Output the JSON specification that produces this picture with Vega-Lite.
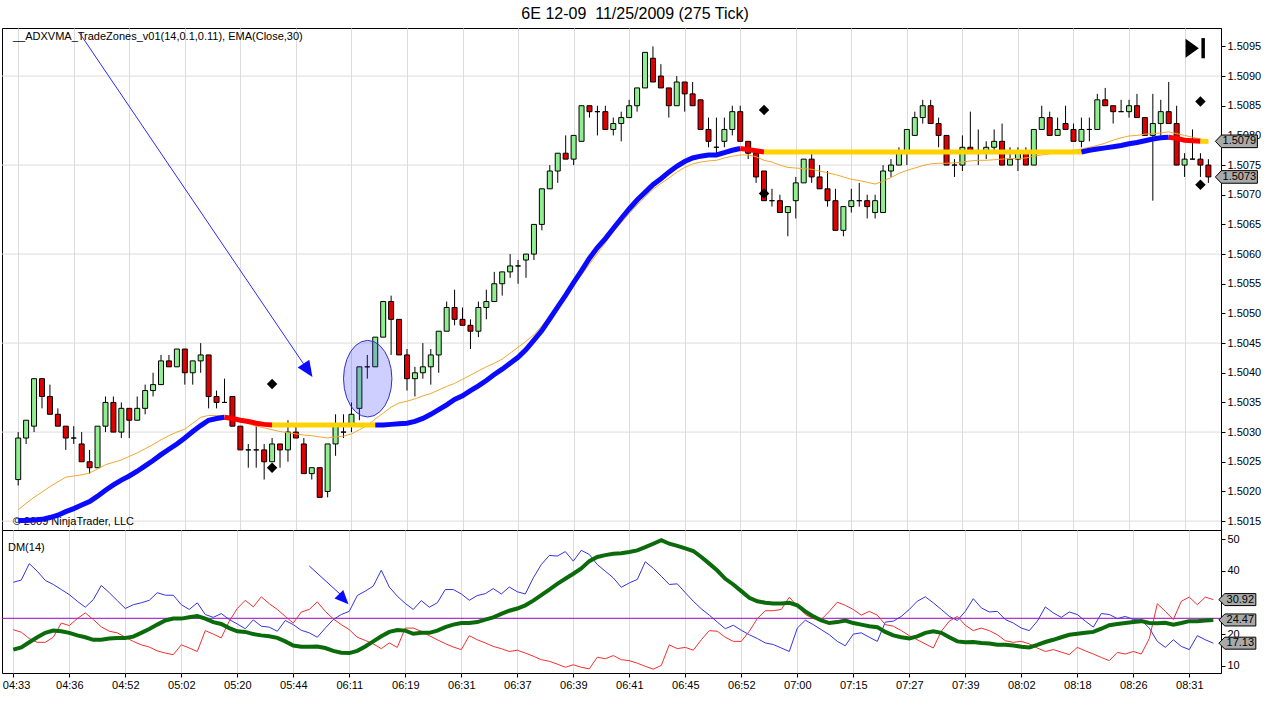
{
  "$schema": "https://vega.github.io/schema/vega-lite/v6.json",
  "title": {"text": "6E 12-09\u00a0 11/25/2009 (275 Tick)", "fontSize": 16, "fontWeight": "normal", "color": "#000", "offset": 6, "anchor": "middle", "dx": 4, "font": "Liberation Sans"},
  "padding": {"left": 1, "top": 5, "right": 5, "bottom": 5},
  "background": "white",
  "spacing": 0,
  "bounds": "flush",
  "config": {
    "font": "Liberation Sans",
    "view": {"stroke": "#000", "strokeWidth": 1},
    "axis": {"labelOverlap": false, "labelFont": "Liberation Sans", "labelFontSize": 11, "labelColor": "#000"}
  },
  "datasets": {
    "bars": [
      {"n":1,"o":1.5022,"h":1.5030,"l":1.5021,"c":1.5029,"ema":1.50169,"pdi":36.4,"mdi":21.4,"adx":15.1},
      {"n":2,"o":1.5029,"h":1.5032,"l":1.5028,"c":1.5032,"ema":1.50180,"pdi":37.1,"mdi":20.6,"adx":15.8},
      {"n":3,"o":1.5031,"h":1.5039,"l":1.5030,"c":1.5039,"ema":1.50190,"pdi":42.3,"mdi":18.6,"adx":17.4},
      {"n":4,"o":1.5039,"h":1.5039,"l":1.5034,"c":1.5036,"ema":1.50199,"pdi":39.9,"mdi":17.4,"adx":19.0},
      {"n":5,"o":1.5036,"h":1.5038,"l":1.5033,"c":1.5033,"ema":1.50208,"pdi":37.0,"mdi":17.4,"adx":20.4},
      {"n":6,"o":1.5033,"h":1.5034,"l":1.5031,"c":1.5031,"ema":1.50216,"pdi":35.7,"mdi":19.0,"adx":21.1},
      {"n":7,"o":1.5031,"h":1.5031,"l":1.5027,"c":1.5029,"ema":1.50224,"pdi":34.1,"mdi":23.5,"adx":20.9},
      {"n":8,"o":1.5029,"h":1.5031,"l":1.5028,"c":1.5029,"ema":1.50226,"pdi":32.5,"mdi":22.7,"adx":20.4},
      {"n":9,"o":1.5028,"h":1.5030,"l":1.5025,"c":1.5025,"ema":1.50228,"pdi":30.4,"mdi":24.9,"adx":19.6},
      {"n":10,"o":1.5025,"h":1.5027,"l":1.5023,"c":1.5024,"ema":1.50231,"pdi":28.5,"mdi":26.7,"adx":19.0},
      {"n":11,"o":1.5024,"h":1.5031,"l":1.5024,"c":1.5031,"ema":1.50238,"pdi":30.9,"mdi":24.6,"adx":18.2},
      {"n":12,"o":1.5031,"h":1.5036,"l":1.5030,"c":1.5035,"ema":1.50245,"pdi":35.4,"mdi":22.3,"adx":18.2},
      {"n":13,"o":1.5035,"h":1.5036,"l":1.5030,"c":1.5030,"ema":1.50249,"pdi":33.1,"mdi":20.9,"adx":18.6},
      {"n":14,"o":1.5030,"h":1.5035,"l":1.5029,"c":1.5034,"ema":1.50253,"pdi":30.6,"mdi":20.4,"adx":18.8},
      {"n":15,"o":1.5034,"h":1.5034,"l":1.5029,"c":1.5032,"ema":1.50259,"pdi":28.1,"mdi":19.0,"adx":18.8},
      {"n":16,"o":1.5032,"h":1.5036,"l":1.5032,"c":1.5034,"ema":1.50265,"pdi":29.3,"mdi":17.7,"adx":19.2},
      {"n":17,"o":1.5034,"h":1.5038,"l":1.5033,"c":1.5037,"ema":1.50272,"pdi":29.9,"mdi":16.6,"adx":20.4},
      {"n":18,"o":1.5037,"h":1.5040,"l":1.5036,"c":1.5038,"ema":1.50279,"pdi":30.7,"mdi":15.9,"adx":21.6},
      {"n":19,"o":1.5038,"h":1.5043,"l":1.5038,"c":1.5042,"ema":1.50287,"pdi":33.1,"mdi":14.7,"adx":23.0},
      {"n":20,"o":1.5042,"h":1.5043,"l":1.5041,"c":1.5041,"ema":1.50294,"pdi":32.3,"mdi":14.0,"adx":24.3},
      {"n":21,"o":1.5041,"h":1.5044,"l":1.5041,"c":1.5044,"ema":1.50300,"pdi":32.3,"mdi":13.5,"adx":24.9},
      {"n":22,"o":1.5044,"h":1.5044,"l":1.5038,"c":1.5040,"ema":1.50305,"pdi":29.3,"mdi":16.6,"adx":24.9},
      {"n":23,"o":1.5040,"h":1.5042,"l":1.5038,"c":1.5042,"ema":1.50315,"pdi":27.8,"mdi":15.6,"adx":25.3},
      {"n":24,"o":1.5042,"h":1.5045,"l":1.5040,"c":1.5043,"ema":1.50325,"pdi":29.9,"mdi":14.5,"adx":25.7},
      {"n":25,"o":1.5043,"h":1.5043,"l":1.5034,"c":1.5036,"ema":1.50328,"pdi":26.2,"mdi":21.1,"adx":24.9},
      {"n":26,"o":1.5036,"h":1.5037,"l":1.5034,"c":1.5035,"ema":1.50328,"pdi":25.3,"mdi":20.0,"adx":23.8},
      {"n":27,"o":1.5035,"h":1.5039,"l":1.5035,"c":1.5035,"ema":1.50328,"pdi":26.5,"mdi":18.8,"adx":23.2},
      {"n":28,"o":1.5036,"h":1.5036,"l":1.5031,"c":1.5031,"ema":1.50325,"pdi":24.6,"mdi":24.1,"adx":21.9},
      {"n":29,"o":1.5031,"h":1.5031,"l":1.5027,"c":1.5027,"ema":1.50320,"pdi":23.2,"mdi":28.1,"adx":20.9},
      {"n":30,"o":1.5027,"h":1.5028,"l":1.5024,"c":1.5027,"ema":1.50314,"pdi":21.7,"mdi":30.7,"adx":20.7},
      {"n":31,"o":1.5027,"h":1.5031,"l":1.5024,"c":1.5027,"ema":1.50310,"pdi":24.5,"mdi":28.6,"adx":20.0},
      {"n":32,"o":1.5027,"h":1.5028,"l":1.5022,"c":1.5025,"ema":1.50307,"pdi":22.5,"mdi":31.8,"adx":19.6},
      {"n":33,"o":1.5025,"h":1.5029,"l":1.5025,"c":1.5028,"ema":1.50304,"pdi":22.2,"mdi":29.6,"adx":19.3},
      {"n":34,"o":1.5028,"h":1.5028,"l":1.5024,"c":1.5027,"ema":1.50301,"pdi":20.9,"mdi":27.8,"adx":18.8},
      {"n":35,"o":1.5027,"h":1.5032,"l":1.5025,"c":1.5030,"ema":1.50299,"pdi":24.3,"mdi":25.6,"adx":17.7},
      {"n":36,"o":1.5030,"h":1.5031,"l":1.5029,"c":1.5029,"ema":1.50297,"pdi":23.0,"mdi":23.5,"adx":16.4},
      {"n":37,"o":1.5028,"h":1.5029,"l":1.5023,"c":1.5023,"ema":1.50295,"pdi":21.2,"mdi":27.0,"adx":16.0},
      {"n":38,"o":1.5023,"h":1.5024,"l":1.5022,"c":1.5024,"ema":1.50294,"pdi":20.4,"mdi":27.8,"adx":16.0},
      {"n":39,"o":1.5024,"h":1.5024,"l":1.5019,"c":1.5019,"ema":1.50292,"pdi":19.0,"mdi":30.2,"adx":16.1},
      {"n":40,"o":1.5020,"h":1.5028,"l":1.5019,"c":1.5028,"ema":1.50290,"pdi":21.9,"mdi":27.2,"adx":15.6},
      {"n":41,"o":1.5028,"h":1.5033,"l":1.5026,"c":1.5031,"ema":1.50292,"pdi":24.6,"mdi":24.8,"adx":14.7},
      {"n":42,"o":1.5030,"h":1.5033,"l":1.5029,"c":1.5030,"ema":1.50293,"pdi":26.2,"mdi":23.0,"adx":14.1},
      {"n":43,"o":1.5031,"h":1.5035,"l":1.5030,"c":1.5033,"ema":1.50297,"pdi":27.2,"mdi":21.4,"adx":14.0},
      {"n":44,"o":1.5034,"h":1.5041,"l":1.5032,"c":1.5041,"ema":1.50304,"pdi":32.2,"mdi":19.0,"adx":14.7},
      {"n":45,"o":1.5041,"h":1.5043,"l":1.5039,"c":1.5041,"ema":1.50311,"pdi":33.6,"mdi":18.0,"adx":16.1},
      {"n":46,"o":1.5041,"h":1.5046,"l":1.5041,"c":1.5046,"ema":1.50322,"pdi":35.2,"mdi":16.9,"adx":17.7},
      {"n":47,"o":1.5046,"h":1.5052,"l":1.5046,"c":1.5052,"ema":1.50332,"pdi":40.2,"mdi":15.4,"adx":19.3},
      {"n":48,"o":1.5052,"h":1.5053,"l":1.5043,"c":1.5049,"ema":1.50342,"pdi":34.9,"mdi":17.2,"adx":20.7},
      {"n":49,"o":1.5049,"h":1.5049,"l":1.5043,"c":1.5043,"ema":1.50349,"pdi":32.0,"mdi":15.8,"adx":21.3},
      {"n":50,"o":1.5043,"h":1.5044,"l":1.5037,"c":1.5039,"ema":1.50352,"pdi":29.7,"mdi":21.9,"adx":21.1},
      {"n":51,"o":1.5039,"h":1.5041,"l":1.5036,"c":1.5040,"ema":1.50356,"pdi":27.8,"mdi":21.9,"adx":20.1},
      {"n":52,"o":1.5040,"h":1.5045,"l":1.5039,"c":1.5041,"ema":1.50361,"pdi":30.6,"mdi":20.9,"adx":20.4},
      {"n":53,"o":1.5041,"h":1.5044,"l":1.5038,"c":1.5043,"ema":1.50365,"pdi":28.5,"mdi":19.5,"adx":20.4},
      {"n":54,"o":1.5043,"h":1.5047,"l":1.5040,"c":1.5047,"ema":1.50371,"pdi":29.9,"mdi":18.2,"adx":21.1},
      {"n":55,"o":1.5047,"h":1.5052,"l":1.5047,"c":1.5051,"ema":1.50377,"pdi":34.1,"mdi":17.0,"adx":22.2},
      {"n":56,"o":1.5051,"h":1.5054,"l":1.5048,"c":1.5049,"ema":1.50382,"pdi":34.1,"mdi":15.9,"adx":23.0},
      {"n":57,"o":1.5049,"h":1.5051,"l":1.5048,"c":1.5048,"ema":1.50389,"pdi":32.7,"mdi":15.1,"adx":23.5},
      {"n":58,"o":1.5048,"h":1.5049,"l":1.5044,"c":1.5047,"ema":1.50396,"pdi":30.7,"mdi":19.5,"adx":23.5},
      {"n":59,"o":1.5047,"h":1.5052,"l":1.5046,"c":1.5051,"ema":1.50403,"pdi":32.2,"mdi":18.2,"adx":23.8},
      {"n":60,"o":1.5051,"h":1.5054,"l":1.5049,"c":1.5052,"ema":1.50410,"pdi":32.8,"mdi":17.2,"adx":24.6},
      {"n":61,"o":1.5052,"h":1.5057,"l":1.5052,"c":1.5055,"ema":1.50416,"pdi":34.4,"mdi":16.1,"adx":25.3},
      {"n":62,"o":1.5055,"h":1.5057,"l":1.5053,"c":1.5057,"ema":1.50423,"pdi":32.7,"mdi":15.4,"adx":26.4},
      {"n":63,"o":1.5057,"h":1.5060,"l":1.5056,"c":1.5058,"ema":1.50433,"pdi":34.9,"mdi":14.5,"adx":27.4},
      {"n":64,"o":1.5058,"h":1.5059,"l":1.5055,"c":1.5058,"ema":1.50443,"pdi":33.4,"mdi":14.9,"adx":28.1},
      {"n":65,"o":1.5059,"h":1.5060,"l":1.5056,"c":1.5060,"ema":1.50453,"pdi":32.7,"mdi":14.0,"adx":29.1},
      {"n":66,"o":1.5060,"h":1.5065,"l":1.5059,"c":1.5065,"ema":1.50464,"pdi":37.8,"mdi":13.0,"adx":30.6},
      {"n":67,"o":1.5065,"h":1.5071,"l":1.5064,"c":1.5071,"ema":1.50479,"pdi":42.0,"mdi":11.9,"adx":32.3},
      {"n":68,"o":1.5071,"h":1.5075,"l":1.5071,"c":1.5074,"ema":1.50496,"pdi":44.9,"mdi":11.4,"adx":34.1},
      {"n":69,"o":1.5074,"h":1.5077,"l":1.5072,"c":1.5077,"ema":1.50513,"pdi":44.7,"mdi":10.5,"adx":35.9},
      {"n":70,"o":1.5077,"h":1.5080,"l":1.5076,"c":1.5076,"ema":1.50530,"pdi":46.1,"mdi":9.5,"adx":37.5},
      {"n":71,"o":1.5076,"h":1.5080,"l":1.5075,"c":1.5080,"ema":1.50548,"pdi":43.1,"mdi":10.3,"adx":39.1},
      {"n":72,"o":1.5079,"h":1.5085,"l":1.5079,"c":1.5085,"ema":1.50565,"pdi":46.5,"mdi":9.5,"adx":40.8},
      {"n":73,"o":1.5085,"h":1.5085,"l":1.5083,"c":1.5084,"ema":1.50583,"pdi":45.2,"mdi":9.0,"adx":43.1},
      {"n":74,"o":1.5084,"h":1.5085,"l":1.5080,"c":1.5084,"ema":1.50601,"pdi":42.0,"mdi":12.7,"adx":44.4},
      {"n":75,"o":1.5084,"h":1.5085,"l":1.5081,"c":1.5081,"ema":1.50619,"pdi":39.9,"mdi":12.2,"adx":45.0},
      {"n":76,"o":1.5081,"h":1.5083,"l":1.5080,"c":1.5082,"ema":1.50638,"pdi":37.8,"mdi":13.2,"adx":45.4},
      {"n":77,"o":1.5082,"h":1.5084,"l":1.5079,"c":1.5083,"ema":1.50653,"pdi":34.8,"mdi":11.9,"adx":45.6},
      {"n":78,"o":1.5083,"h":1.5086,"l":1.5083,"c":1.5085,"ema":1.50668,"pdi":36.2,"mdi":11.6,"adx":46.0},
      {"n":79,"o":1.5085,"h":1.5088,"l":1.5084,"c":1.5088,"ema":1.50683,"pdi":37.3,"mdi":10.8,"adx":46.5},
      {"n":80,"o":1.5088,"h":1.5094,"l":1.5088,"c":1.5094,"ema":1.50696,"pdi":42.9,"mdi":9.8,"adx":47.5},
      {"n":81,"o":1.5093,"h":1.5095,"l":1.5089,"c":1.5089,"ema":1.50709,"pdi":40.8,"mdi":8.9,"adx":48.6},
      {"n":82,"o":1.5090,"h":1.5092,"l":1.5088,"c":1.5088,"ema":1.50719,"pdi":38.3,"mdi":10.1,"adx":49.7},
      {"n":83,"o":1.5088,"h":1.5088,"l":1.5083,"c":1.5085,"ema":1.50728,"pdi":35.7,"mdi":16.6,"adx":48.6},
      {"n":84,"o":1.5085,"h":1.5090,"l":1.5085,"c":1.5089,"ema":1.50738,"pdi":35.9,"mdi":15.4,"adx":47.9},
      {"n":85,"o":1.5089,"h":1.5089,"l":1.5084,"c":1.5087,"ema":1.50746,"pdi":33.1,"mdi":15.8,"adx":47.1},
      {"n":86,"o":1.5087,"h":1.5089,"l":1.5085,"c":1.5085,"ema":1.50752,"pdi":30.4,"mdi":14.9,"adx":46.3},
      {"n":87,"o":1.5086,"h":1.5086,"l":1.5081,"c":1.5081,"ema":1.50755,"pdi":28.0,"mdi":18.2,"adx":44.4},
      {"n":88,"o":1.5081,"h":1.5083,"l":1.5078,"c":1.5079,"ema":1.50757,"pdi":26.0,"mdi":21.1,"adx":42.3},
      {"n":89,"o":1.5078,"h":1.5083,"l":1.5077,"c":1.5078,"ema":1.50758,"pdi":23.8,"mdi":20.9,"adx":40.1},
      {"n":90,"o":1.5079,"h":1.5083,"l":1.5078,"c":1.5081,"ema":1.50762,"pdi":21.7,"mdi":19.0,"adx":37.5},
      {"n":91,"o":1.5081,"h":1.5085,"l":1.5080,"c":1.5084,"ema":1.50765,"pdi":22.8,"mdi":17.7,"adx":35.7},
      {"n":92,"o":1.5084,"h":1.5085,"l":1.5079,"c":1.5079,"ema":1.50767,"pdi":21.2,"mdi":17.7,"adx":33.6},
      {"n":93,"o":1.5079,"h":1.5079,"l":1.5076,"c":1.5077,"ema":1.50767,"pdi":19.8,"mdi":20.9,"adx":31.5},
      {"n":94,"o":1.5077,"h":1.5077,"l":1.5072,"c":1.5073,"ema":1.50764,"pdi":18.6,"mdi":24.9,"adx":30.4},
      {"n":95,"o":1.5074,"h":1.5074,"l":1.5069,"c":1.5069,"ema":1.50758,"pdi":17.2,"mdi":27.4,"adx":29.9},
      {"n":96,"o":1.5069,"h":1.5071,"l":1.5068,"c":1.5069,"ema":1.50755,"pdi":16.7,"mdi":27.4,"adx":29.7},
      {"n":97,"o":1.5069,"h":1.5070,"l":1.5067,"c":1.5067,"ema":1.50750,"pdi":15.6,"mdi":27.8,"adx":29.7},
      {"n":98,"o":1.5067,"h":1.5068,"l":1.5063,"c":1.5068,"ema":1.50746,"pdi":14.5,"mdi":31.7,"adx":29.9},
      {"n":99,"o":1.5069,"h":1.5073,"l":1.5066,"c":1.5072,"ema":1.50745,"pdi":21.9,"mdi":28.8,"adx":29.1},
      {"n":100,"o":1.5072,"h":1.5076,"l":1.5072,"c":1.5076,"ema":1.50744,"pdi":24.4,"mdi":26.2,"adx":27.2},
      {"n":101,"o":1.5076,"h":1.5077,"l":1.5072,"c":1.5073,"ema":1.50743,"pdi":23.0,"mdi":24.9,"adx":25.6},
      {"n":102,"o":1.5073,"h":1.5075,"l":1.5071,"c":1.5071,"ema":1.50740,"pdi":21.4,"mdi":24.6,"adx":24.3},
      {"n":103,"o":1.5071,"h":1.5074,"l":1.5068,"c":1.5069,"ema":1.50737,"pdi":19.8,"mdi":27.2,"adx":23.5},
      {"n":104,"o":1.5069,"h":1.5071,"l":1.5064,"c":1.5064,"ema":1.50734,"pdi":17.7,"mdi":30.1,"adx":23.8},
      {"n":105,"o":1.5064,"h":1.5068,"l":1.5063,"c":1.5068,"ema":1.50730,"pdi":16.3,"mdi":29.1,"adx":24.3},
      {"n":106,"o":1.5068,"h":1.5071,"l":1.5067,"c":1.5069,"ema":1.50726,"pdi":20.0,"mdi":27.8,"adx":23.5},
      {"n":107,"o":1.5069,"h":1.5072,"l":1.5068,"c":1.5069,"ema":1.50724,"pdi":20.4,"mdi":26.0,"adx":23.0},
      {"n":108,"o":1.5069,"h":1.5070,"l":1.5066,"c":1.5068,"ema":1.50721,"pdi":19.0,"mdi":27.2,"adx":22.5},
      {"n":109,"o":1.5067,"h":1.5070,"l":1.5066,"c":1.5069,"ema":1.50718,"pdi":17.7,"mdi":26.0,"adx":22.2},
      {"n":110,"o":1.5067,"h":1.5075,"l":1.5067,"c":1.5074,"ema":1.50723,"pdi":23.8,"mdi":23.0,"adx":20.7},
      {"n":111,"o":1.5074,"h":1.5076,"l":1.5073,"c":1.5075,"ema":1.50729,"pdi":24.1,"mdi":22.5,"adx":19.6},
      {"n":112,"o":1.5075,"h":1.5078,"l":1.5075,"c":1.5077,"ema":1.50736,"pdi":25.6,"mdi":21.1,"adx":19.0},
      {"n":113,"o":1.5077,"h":1.5081,"l":1.5075,"c":1.5081,"ema":1.50741,"pdi":27.8,"mdi":19.5,"adx":18.6},
      {"n":114,"o":1.5080,"h":1.5084,"l":1.5080,"c":1.5083,"ema":1.50745,"pdi":30.4,"mdi":18.2,"adx":19.3},
      {"n":115,"o":1.5083,"h":1.5086,"l":1.5082,"c":1.5085,"ema":1.50749,"pdi":31.8,"mdi":16.9,"adx":20.4},
      {"n":116,"o":1.5085,"h":1.5086,"l":1.5082,"c":1.5082,"ema":1.50752,"pdi":29.9,"mdi":15.6,"adx":20.9},
      {"n":117,"o":1.5082,"h":1.5083,"l":1.5078,"c":1.5080,"ema":1.50753,"pdi":27.8,"mdi":20.9,"adx":20.4},
      {"n":118,"o":1.5080,"h":1.5080,"l":1.5075,"c":1.5075,"ema":1.50753,"pdi":25.6,"mdi":24.1,"adx":19.0},
      {"n":119,"o":1.5075,"h":1.5076,"l":1.5073,"c":1.5075,"ema":1.50754,"pdi":24.3,"mdi":25.6,"adx":17.7},
      {"n":120,"o":1.5075,"h":1.5080,"l":1.5074,"c":1.5078,"ema":1.50755,"pdi":27.2,"mdi":22.8,"adx":17.4},
      {"n":121,"o":1.5078,"h":1.5084,"l":1.5077,"c":1.5077,"ema":1.50757,"pdi":31.2,"mdi":21.1,"adx":17.5},
      {"n":122,"o":1.5077,"h":1.5081,"l":1.5075,"c":1.5077,"ema":1.50758,"pdi":28.3,"mdi":21.9,"adx":17.2},
      {"n":123,"o":1.5077,"h":1.5079,"l":1.5076,"c":1.5078,"ema":1.50758,"pdi":27.0,"mdi":21.1,"adx":17.0},
      {"n":124,"o":1.5078,"h":1.5081,"l":1.5077,"c":1.5079,"ema":1.50759,"pdi":27.2,"mdi":19.8,"adx":16.6},
      {"n":125,"o":1.5079,"h":1.5082,"l":1.5075,"c":1.5075,"ema":1.50760,"pdi":24.6,"mdi":17.9,"adx":16.6},
      {"n":126,"o":1.5075,"h":1.5078,"l":1.5075,"c":1.5076,"ema":1.50761,"pdi":23.5,"mdi":17.4,"adx":16.4},
      {"n":127,"o":1.5076,"h":1.5078,"l":1.5074,"c":1.5077,"ema":1.50761,"pdi":21.9,"mdi":17.7,"adx":16.0},
      {"n":128,"o":1.5077,"h":1.5078,"l":1.5075,"c":1.5075,"ema":1.50762,"pdi":21.1,"mdi":16.9,"adx":15.8},
      {"n":129,"o":1.5075,"h":1.5081,"l":1.5075,"c":1.5081,"ema":1.50765,"pdi":24.1,"mdi":15.6,"adx":16.6},
      {"n":130,"o":1.5081,"h":1.5085,"l":1.5081,"c":1.5083,"ema":1.50767,"pdi":28.6,"mdi":14.5,"adx":17.5},
      {"n":131,"o":1.5083,"h":1.5084,"l":1.5080,"c":1.5080,"ema":1.50769,"pdi":26.7,"mdi":15.1,"adx":18.2},
      {"n":132,"o":1.5080,"h":1.5083,"l":1.5080,"c":1.5081,"ema":1.50771,"pdi":25.3,"mdi":14.3,"adx":19.0},
      {"n":133,"o":1.5082,"h":1.5085,"l":1.5081,"c":1.5081,"ema":1.50773,"pdi":27.0,"mdi":13.5,"adx":19.8},
      {"n":134,"o":1.5081,"h":1.5082,"l":1.5079,"c":1.5079,"ema":1.50775,"pdi":26.2,"mdi":15.8,"adx":20.1},
      {"n":135,"o":1.5079,"h":1.5083,"l":1.5078,"c":1.5081,"ema":1.50777,"pdi":24.1,"mdi":14.7,"adx":20.4},
      {"n":136,"o":1.5081,"h":1.5083,"l":1.5079,"c":1.5081,"ema":1.50780,"pdi":22.2,"mdi":13.7,"adx":20.7},
      {"n":137,"o":1.5081,"h":1.5087,"l":1.5081,"c":1.5086,"ema":1.50783,"pdi":26.5,"mdi":12.6,"adx":21.7},
      {"n":138,"o":1.5086,"h":1.5088,"l":1.5085,"c":1.5085,"ema":1.50787,"pdi":26.2,"mdi":11.6,"adx":22.8},
      {"n":139,"o":1.5085,"h":1.5085,"l":1.5082,"c":1.5084,"ema":1.50792,"pdi":24.9,"mdi":14.2,"adx":23.2},
      {"n":140,"o":1.5084,"h":1.5086,"l":1.5084,"c":1.5084,"ema":1.50796,"pdi":25.6,"mdi":13.7,"adx":23.5},
      {"n":141,"o":1.5084,"h":1.5086,"l":1.5083,"c":1.5085,"ema":1.50799,"pdi":24.6,"mdi":14.5,"adx":23.8},
      {"n":142,"o":1.5085,"h":1.5087,"l":1.5083,"c":1.5083,"ema":1.50800,"pdi":24.4,"mdi":13.7,"adx":24.1},
      {"n":143,"o":1.5083,"h":1.5083,"l":1.5080,"c":1.5080,"ema":1.50802,"pdi":21.9,"mdi":18.6,"adx":23.5},
      {"n":144,"o":1.5080,"h":1.5087,"l":1.5069,"c":1.5082,"ema":1.50803,"pdi":17.7,"mdi":29.6,"adx":23.4},
      {"n":145,"o":1.5082,"h":1.5086,"l":1.5080,"c":1.5084,"ema":1.50804,"pdi":15.8,"mdi":27.2,"adx":23.6},
      {"n":146,"o":1.5084,"h":1.5089,"l":1.5082,"c":1.5082,"ema":1.50806,"pdi":18.2,"mdi":24.6,"adx":23.0},
      {"n":147,"o":1.5082,"h":1.5085,"l":1.5075,"c":1.5075,"ema":1.50803,"pdi":16.1,"mdi":30.4,"adx":23.5},
      {"n":148,"o":1.5075,"h":1.5077,"l":1.5073,"c":1.5076,"ema":1.50800,"pdi":15.1,"mdi":31.7,"adx":24.1},
      {"n":149,"o":1.5076,"h":1.5081,"l":1.5076,"c":1.5076,"ema":1.50797,"pdi":19.5,"mdi":29.3,"adx":24.1},
      {"n":150,"o":1.5076,"h":1.5077,"l":1.5073,"c":1.5075,"ema":1.50794,"pdi":18.2,"mdi":31.7,"adx":24.3},
      {"n":151,"o":1.5075,"h":1.5076,"l":1.5072,"c":1.5073,"ema":1.50790,"pdi":17.13,"mdi":30.92,"adx":24.47}
    ],
    "vma": [
      {"n":1,"v":1.50151,"s":1,"t":"up"},{"n":2,"v":1.50151,"s":1,"t":"up"},{"n":3,"v":1.50152,"s":1,"t":"up"},
      {"n":4,"v":1.50153,"s":1,"t":"up"},{"n":5,"v":1.50156,"s":1,"t":"up"},{"n":6,"v":1.50160,"s":1,"t":"up"},
      {"n":7,"v":1.50166,"s":1,"t":"up"},{"n":8,"v":1.50171,"s":1,"t":"up"},{"n":9,"v":1.50177,"s":1,"t":"up"},
      {"n":10,"v":1.50183,"s":1,"t":"up"},{"n":11,"v":1.50192,"s":1,"t":"up"},{"n":12,"v":1.50202,"s":1,"t":"up"},
      {"n":13,"v":1.50211,"s":1,"t":"up"},{"n":14,"v":1.50219,"s":1,"t":"up"},{"n":15,"v":1.50226,"s":1,"t":"up"},
      {"n":16,"v":1.50234,"s":1,"t":"up"},{"n":17,"v":1.50243,"s":1,"t":"up"},{"n":18,"v":1.50252,"s":1,"t":"up"},
      {"n":19,"v":1.50262,"s":1,"t":"up"},{"n":20,"v":1.50271,"s":1,"t":"up"},{"n":21,"v":1.50280,"s":1,"t":"up"},
      {"n":22,"v":1.50290,"s":1,"t":"up"},{"n":23,"v":1.50301,"s":1,"t":"up"},{"n":24,"v":1.50311,"s":1,"t":"up"},
      {"n":25,"v":1.50320,"s":1,"t":"up"},{"n":26,"v":1.50323,"s":1,"t":"up"},{"n":27,"v":1.50325,"s":1,"t":"up"},
      {"n":27,"v":1.50325,"s":2,"t":"down"},{"n":28,"v":1.50323,"s":2,"t":"down"},{"n":29,"v":1.50320,"s":2,"t":"down"},
      {"n":30,"v":1.50318,"s":2,"t":"down"},{"n":31,"v":1.50315,"s":2,"t":"down"},{"n":32,"v":1.50313,"s":2,"t":"down"},
      {"n":33,"v":1.50312,"s":2,"t":"down"},
      {"n":33,"v":1.50312,"s":3,"t":"flat"},{"n":46,"v":1.50312,"s":3,"t":"flat"},
      {"n":46,"v":1.50312,"s":4,"t":"up"},{"n":47,"v":1.50312,"s":4,"t":"up"},{"n":48,"v":1.50313,"s":4,"t":"up"},
      {"n":49,"v":1.50314,"s":4,"t":"up"},{"n":50,"v":1.50315,"s":4,"t":"up"},{"n":51,"v":1.50318,"s":4,"t":"up"},
      {"n":52,"v":1.50323,"s":4,"t":"up"},{"n":53,"v":1.50330,"s":4,"t":"up"},{"n":54,"v":1.50338,"s":4,"t":"up"},
      {"n":55,"v":1.50346,"s":4,"t":"up"},{"n":56,"v":1.50355,"s":4,"t":"up"},{"n":57,"v":1.50361,"s":4,"t":"up"},
      {"n":58,"v":1.50370,"s":4,"t":"up"},{"n":59,"v":1.50378,"s":4,"t":"up"},{"n":60,"v":1.50387,"s":4,"t":"up"},
      {"n":61,"v":1.50397,"s":4,"t":"up"},{"n":62,"v":1.50406,"s":4,"t":"up"},{"n":63,"v":1.50416,"s":4,"t":"up"},
      {"n":64,"v":1.50426,"s":4,"t":"up"},{"n":65,"v":1.50439,"s":4,"t":"up"},{"n":66,"v":1.50455,"s":4,"t":"up"},
      {"n":67,"v":1.50471,"s":4,"t":"up"},{"n":68,"v":1.50491,"s":4,"t":"up"},{"n":69,"v":1.50511,"s":4,"t":"up"},
      {"n":70,"v":1.50531,"s":4,"t":"up"},{"n":71,"v":1.50552,"s":4,"t":"up"},{"n":72,"v":1.50572,"s":4,"t":"up"},
      {"n":73,"v":1.50593,"s":4,"t":"up"},{"n":74,"v":1.50611,"s":4,"t":"up"},{"n":75,"v":1.50626,"s":4,"t":"up"},
      {"n":76,"v":1.50643,"s":4,"t":"up"},{"n":77,"v":1.50660,"s":4,"t":"up"},{"n":78,"v":1.50676,"s":4,"t":"up"},
      {"n":79,"v":1.50691,"s":4,"t":"up"},{"n":80,"v":1.50704,"s":4,"t":"up"},{"n":81,"v":1.50717,"s":4,"t":"up"},
      {"n":82,"v":1.50727,"s":4,"t":"up"},{"n":83,"v":1.50738,"s":4,"t":"up"},{"n":84,"v":1.50748,"s":4,"t":"up"},
      {"n":85,"v":1.50756,"s":4,"t":"up"},{"n":86,"v":1.50762,"s":4,"t":"up"},{"n":87,"v":1.50765,"s":4,"t":"up"},
      {"n":88,"v":1.50767,"s":4,"t":"up"},{"n":89,"v":1.50767,"s":4,"t":"up"},{"n":90,"v":1.50771,"s":4,"t":"up"},
      {"n":91,"v":1.50775,"s":4,"t":"up"},{"n":92,"v":1.50778,"s":4,"t":"up"},
      {"n":92,"v":1.50778,"s":5,"t":"down"},{"n":93,"v":1.50776,"s":5,"t":"down"},{"n":94,"v":1.50774,"s":5,"t":"down"},
      {"n":95,"v":1.50772,"s":5,"t":"down"},
      {"n":95,"v":1.50772,"s":6,"t":"flat"},{"n":135,"v":1.50772,"s":6,"t":"flat"},
      {"n":135,"v":1.50772,"s":7,"t":"up"},{"n":136,"v":1.50775,"s":7,"t":"up"},{"n":137,"v":1.50777,"s":7,"t":"up"},
      {"n":138,"v":1.50779,"s":7,"t":"up"},{"n":139,"v":1.50781,"s":7,"t":"up"},{"n":140,"v":1.50783,"s":7,"t":"up"},
      {"n":141,"v":1.50786,"s":7,"t":"up"},{"n":142,"v":1.50788,"s":7,"t":"up"},{"n":143,"v":1.50791,"s":7,"t":"up"},
      {"n":144,"v":1.50794,"s":7,"t":"up"},{"n":145,"v":1.50796,"s":7,"t":"up"},{"n":146,"v":1.50797,"s":7,"t":"up"},
      {"n":146,"v":1.50797,"s":8,"t":"down"},{"n":147,"v":1.50795,"s":8,"t":"down"},{"n":148,"v":1.50792,"s":8,"t":"down"},
      {"n":149,"v":1.50791,"s":8,"t":"down"},{"n":150,"v":1.50790,"s":8,"t":"down"},
      {"n":150,"v":1.50790,"s":9,"t":"flat"},{"n":151,"v":1.50790,"s":9,"t":"flat"}
    ],
    "diamonds": [
      {"n":33,"p":1.50381},{"n":33,"p":1.50240},
      {"n":95,"p":1.50843},{"n":95,"p":1.50702},
      {"n":150,"p":1.50857},{"n":150,"p":1.50717}
    ]
  },
  "vconcat": [
    {
      "width": 1219,
      "height": 502,
      "layer": [
        {
          "data": {"values": [{"p":1.5015},{"p":1.503},{"p":1.5045},{"p":1.506},{"p":1.5075},{"p":1.509}]},
          "mark": {"type": "rule", "color": "#dcdcdc", "strokeWidth": 1},
          "encoding": {"y": {"field": "p", "type": "quantitative", "scale": {"domain": [1.50135, 1.50981], "nice": false, "zero": false},
                  "axis": {"orient": "right", "values": [1.5015,1.502,1.5025,1.503,1.5035,1.504,1.5045,1.505,1.5055,1.506,1.5065,1.507,1.5075,1.508,1.5085,1.509,1.5095],
                           "tickCount": 40, "format": ".4f", "title": null, "grid": false, "tickSize": 4, "tickColor": "#000", "domainColor": "#000", "labelOverlap": false,
                           "labelFontSize": 11, "labelColor": "#000", "labelPadding": 2, "labelFont": "Liberation Sans"}}}
        },
        {
          "data": {"name": "bars"},
          "mark": {"type": "rule", "color": "#000", "strokeWidth": 1},
          "encoding": {
            "x": {"field": "n", "type": "quantitative", "scale": {"domain": [-0.41, 151.96], "nice": false, "zero": false},
                  "axis": {"orient": "bottom", "values": [1,8,15,22,29,36,43,50,57,64,71,78,85,92,99,106,113,120,127,134,141,148],
                           "tickCount": 40, "labels": false, "ticks": false, "domain": false, "grid": true, "gridColor": "#dcdcdc", "title": null}},
            "y": {"field": "l", "type": "quantitative", "scale": {"domain": [1.50135, 1.50981], "nice": false, "zero": false}},
            "y2": {"field": "h"}
          }
        },
        {
          "data": {"values": [
            {"n":0.34,"p":1.50965,"t":"__ADXVMA_TradeZones_v01(14,0.1,0.11), EMA(Close,30)"},
            {"n":0.3,"p":1.50149,"t":"© 2009 NinjaTrader, LLC"}
          ]},
          "mark": {"type": "text", "align": "left", "baseline": "middle", "fontSize": 11, "color": "#000"},
          "encoding": {
            "x": {"field": "n", "type": "quantitative", "scale": {"domain": [-0.41, 151.96], "nice": false, "zero": false}},
            "y": {"field": "p", "type": "quantitative", "scale": {"domain": [1.50135, 1.50981], "nice": false, "zero": false}},
            "text": {"field": "t"}
          }
        },
        {
          "data": {"name": "bars"},
          "mark": {"type": "bar", "size": 5, "stroke": "#000", "strokeWidth": 1},
          "encoding": {
            "x": {"field": "n", "type": "quantitative", "scale": {"domain": [-0.41, 151.96], "nice": false, "zero": false}},
            "y": {"field": "o", "type": "quantitative", "scale": {"domain": [1.50135, 1.50981], "nice": false, "zero": false}},
            "y2": {"field": "c"},
            "fill": {"condition": {"test": "datum.c >= datum.o", "value": "#90ee90"}, "value": "#e00000"}
          }
        },
        {
          "data": {"name": "bars"},
          "mark": {"type": "line", "color": "#f0a830", "strokeWidth": 1},
          "encoding": {
            "x": {"field": "n", "type": "quantitative", "scale": {"domain": [-0.41, 151.96], "nice": false, "zero": false}},
            "y": {"field": "ema", "type": "quantitative", "scale": {"domain": [1.50135, 1.50981], "nice": false, "zero": false}}
          }
        },
        {
          "data": {"name": "vma"},
          "mark": {"type": "line", "strokeWidth": 5, "strokeCap": "butt"},
          "encoding": {
            "x": {"field": "n", "type": "quantitative", "scale": {"domain": [-0.41, 151.96], "nice": false, "zero": false}},
            "y": {"field": "v", "type": "quantitative", "scale": {"domain": [1.50135, 1.50981], "nice": false, "zero": false}},
            "color": {"field": "t", "type": "nominal", "scale": {"domain": ["up", "down", "flat"], "range": ["#0a0aff", "#ff0000", "#ffd200"]}, "legend": null},
            "detail": {"field": "s"}
          }
        },
        {
          "data": {"values": [{"n1":8.71,"p1":1.50973,"n2":36.96,"p2":1.50415}]},
          "mark": {"type": "rule", "color": "#2a2aff", "strokeWidth": 1},
          "encoding": {
            "x": {"field": "n1", "type": "quantitative", "scale": {"domain": [-0.41, 151.96], "nice": false, "zero": false}},
            "y": {"field": "p1", "type": "quantitative", "scale": {"domain": [1.50135, 1.50981], "nice": false, "zero": false}},
            "x2": {"field": "n2"},
            "y2": {"field": "p2"}
          }
        },
        {
          "data": {"values": [{"n":37.38,"p":1.50407}]},
          "mark": {"type": "point", "shape": "M -0.7 -0.6 L 0.7 -0.6 L 0 1 Z", "size": 400, "angle": 326, "filled": true, "fill": "#0a0aff", "stroke": null, "opacity": 1},
          "encoding": {
            "x": {"field": "n", "type": "quantitative", "scale": {"domain": [-0.41, 151.96], "nice": false, "zero": false}},
            "y": {"field": "p", "type": "quantitative", "scale": {"domain": [1.50135, 1.50981], "nice": false, "zero": false}}
          }
        },
        {
          "data": {"values": [{"n":45.05,"p":1.5039}]},
          "mark": {"type": "point", "shape": "M 0.632 0 L 0.61 0.259 L 0.547 0.5 L 0.447 0.707 L 0.316 0.866 L 0.164 0.966 L 0 1 L -0.164 0.966 L -0.316 0.866 L -0.447 0.707 L -0.547 0.5 L -0.61 0.259 L -0.632 0 L -0.61 -0.259 L -0.547 -0.5 L -0.447 -0.707 L -0.316 -0.866 L -0.164 -0.966 L 0 -1 L 0.164 -0.966 L 0.316 -0.866 L 0.447 -0.707 L 0.547 -0.5 L 0.61 -0.259 Z",
                   "size": 5868, "filled": true, "fill": "#3232ff", "fillOpacity": 0.24, "stroke": "#3030c8", "strokeWidth": 1, "strokeOpacity": 1, "opacity": 1},
          "encoding": {
            "x": {"field": "n", "type": "quantitative", "scale": {"domain": [-0.41, 151.96], "nice": false, "zero": false}},
            "y": {"field": "p", "type": "quantitative", "scale": {"domain": [1.50135, 1.50981], "nice": false, "zero": false}}
          }
        },
        {
          "data": {"name": "diamonds"},
          "mark": {"type": "point", "shape": "diamond", "size": 110, "filled": true, "fill": "#000", "stroke": null, "opacity": 1},
          "encoding": {
            "x": {"field": "n", "type": "quantitative", "scale": {"domain": [-0.41, 151.96], "nice": false, "zero": false}},
            "y": {"field": "p", "type": "quantitative", "scale": {"domain": [1.50135, 1.50981], "nice": false, "zero": false}}
          }
        },
        {
          "data": {"values": [{"n":148.96,"p":1.50947}]},
          "mark": {"type": "point", "shape": "M -0.7 -1 L 0.7 0 L -0.7 1 Z", "size": 361, "filled": true, "fill": "#000", "stroke": null, "opacity": 1},
          "encoding": {
            "x": {"field": "n", "type": "quantitative", "scale": {"domain": [-0.41, 151.96], "nice": false, "zero": false}},
            "y": {"field": "p", "type": "quantitative", "scale": {"domain": [1.50135, 1.50981], "nice": false, "zero": false}}
          }
        },
        {
          "data": {"values": [{"n":150.34,"p1":1.50964,"p2":1.50930}]},
          "mark": {"type": "rule", "color": "#000", "strokeWidth": 3.5},
          "encoding": {
            "x": {"field": "n", "type": "quantitative", "scale": {"domain": [-0.41, 151.96], "nice": false, "zero": false}},
            "y": {"field": "p1", "type": "quantitative", "scale": {"domain": [1.50135, 1.50981], "nice": false, "zero": false}},
            "y2": {"field": "p2"}
          }
        },
        {
          "data": {"values": [{"n":151,"p":1.5079,"t":"1.5079"},{"n":151,"p":1.5073,"t":"1.5073"}]},
          "mark": {"type": "point", "shape": "M -1 0 L -0.714 -0.3 L 1 -0.3 L 1 0.3 L -0.714 0.3 Z", "size": 1764, "xOffset": 28,
                   "filled": true, "fill": "#a9a9a9", "stroke": "#000", "strokeWidth": 1, "opacity": 1},
          "encoding": {
            "x": {"field": "n", "type": "quantitative", "scale": {"domain": [-0.41, 151.96], "nice": false, "zero": false}},
            "y": {"field": "p", "type": "quantitative", "scale": {"domain": [1.50135, 1.50981], "nice": false, "zero": false}}
          }
        },
        {
          "data": {"values": [{"n":151,"p":1.5079,"t":"1.5079"},{"n":151,"p":1.5073,"t":"1.5073"}]},
          "mark": {"type": "text", "fontSize": 11, "color": "#000", "align": "center", "baseline": "middle", "xOffset": 31},
          "encoding": {
            "x": {"field": "n", "type": "quantitative", "scale": {"domain": [-0.41, 151.96], "nice": false, "zero": false}},
            "y": {"field": "p", "type": "quantitative", "scale": {"domain": [1.50135, 1.50981], "nice": false, "zero": false}},
            "text": {"field": "t"}
          }
        }
      ]
    },
    {
      "width": 1219,
      "height": 143,
      "layer": [
        {
          "data": {"values": [{"v":25}]},
          "mark": {"type": "rule", "color": "#9a00c8", "strokeWidth": 1},
          "encoding": {"y": {"field": "v", "type": "quantitative", "scale": {"domain": [7.69, 52.94], "nice": false, "zero": false},
                  "axis": {"orient": "right", "values": [10, 20, 30, 40, 50], "tickCount": 20, "title": null, "grid": false, "tickSize": 4, "tickColor": "#000", "labelOverlap": false,
                           "domainColor": "#000", "labelFontSize": 11, "labelColor": "#000", "labelPadding": 2, "labelFont": "Liberation Sans"}}}
        },
        {
          "data": {"name": "bars"},
          "mark": {"type": "line", "color": "#3434e0", "strokeWidth": 1},
          "encoding": {
            "x": {"field": "n", "type": "quantitative", "scale": {"domain": [-0.41, 151.96], "nice": false, "zero": false},
                  "axis": {"orient": "bottom", "values": [1,8,15,22,29,36,43,50,57,64,71,78,85,92,99,106,113,120,127,134,141,148], "tickCount": 40,
                           "labelExpr": "['04:33','04:36','04:52','05:02','05:20','05:44','06:11','06:19','06:31','06:37','06:39','06:41','06:45','06:52','07:00','07:15','07:27','07:39','08:02','08:18','08:26','08:31'][round((datum.value-1)/7)]",
                           "title": null, "grid": true, "gridColor": "#dcdcdc", "domain": false, "ticks": true, "tickSize": 4, "tickColor": "#000",
                           "labelFontSize": 11, "labelColor": "#000", "labelPadding": 2, "labelFlush": 15, "labelFlushOffset": 11, "labelOverlap": false, "labelFont": "Liberation Sans"}},
            "y": {"field": "pdi", "type": "quantitative", "scale": {"domain": [7.69, 52.94], "nice": false, "zero": false}}
          }
        },
        {
          "data": {"values": [{"n":0.34,"v":47.15,"t":"DM(14)"}]},
          "mark": {"type": "text", "align": "left", "baseline": "middle", "fontSize": 11, "color": "#000"},
          "encoding": {
            "x": {"field": "n", "type": "quantitative", "scale": {"domain": [-0.41, 151.96], "nice": false, "zero": false}},
            "y": {"field": "v", "type": "quantitative", "scale": {"domain": [7.69, 52.94], "nice": false, "zero": false}},
            "text": {"field": "t"}
          }
        },
        {
          "data": {"name": "bars"},
          "mark": {"type": "line", "color": "#f03030", "strokeWidth": 1},
          "encoding": {
            "x": {"field": "n", "type": "quantitative", "scale": {"domain": [-0.41, 151.96], "nice": false, "zero": false}},
            "y": {"field": "mdi", "type": "quantitative", "scale": {"domain": [7.69, 52.94], "nice": false, "zero": false}}
          }
        },
        {
          "data": {"name": "bars"},
          "mark": {"type": "line", "color": "#0b6b0b", "strokeWidth": 4},
          "encoding": {
            "x": {"field": "n", "type": "quantitative", "scale": {"domain": [-0.41, 151.96], "nice": false, "zero": false}},
            "y": {"field": "adx", "type": "quantitative", "scale": {"domain": [7.69, 52.94], "nice": false, "zero": false}}
          }
        },
        {
          "data": {"values": [{"n1":38.0,"v1":41.55,"n2":41.96,"v2":32.4}]},
          "mark": {"type": "rule", "color": "#2a2aff", "strokeWidth": 1},
          "encoding": {
            "x": {"field": "n1", "type": "quantitative", "scale": {"domain": [-0.41, 151.96], "nice": false, "zero": false}},
            "y": {"field": "v1", "type": "quantitative", "scale": {"domain": [7.69, 52.94], "nice": false, "zero": false}},
            "x2": {"field": "n2"},
            "y2": {"field": "v2"}
          }
        },
        {
          "data": {"values": [{"n":42.15,"v":31.42}]},
          "mark": {"type": "point", "shape": "M -0.7 -0.6 L 0.7 -0.6 L 0 1 Z", "size": 300, "angle": 316, "filled": true, "fill": "#0a0aff", "stroke": null, "opacity": 1},
          "encoding": {
            "x": {"field": "n", "type": "quantitative", "scale": {"domain": [-0.41, 151.96], "nice": false, "zero": false}},
            "y": {"field": "v", "type": "quantitative", "scale": {"domain": [7.69, 52.94], "nice": false, "zero": false}}
          }
        },
        {
          "data": {"values": [{"n":151,"v":30.92,"t":"30.92"},{"n":151,"v":24.47,"t":"24.47"},{"n":151,"v":17.13,"t":"17.13"}]},
          "mark": {"type": "point", "shape": "M -1 0 L -0.676 -0.324 L 1 -0.324 L 1 0.324 L -0.676 0.324 Z", "size": 1369, "xOffset": 24,
                   "filled": true, "fill": "#a9a9a9", "stroke": "#000", "strokeWidth": 1, "opacity": 1},
          "encoding": {
            "x": {"field": "n", "type": "quantitative", "scale": {"domain": [-0.41, 151.96], "nice": false, "zero": false}},
            "y": {"field": "v", "type": "quantitative", "scale": {"domain": [7.69, 52.94], "nice": false, "zero": false}}
          }
        },
        {
          "data": {"values": [{"n":151,"v":30.92,"t":"30.92"},{"n":151,"v":24.47,"t":"24.47"},{"n":151,"v":17.13,"t":"17.13"}]},
          "mark": {"type": "text", "fontSize": 11, "color": "#000", "align": "center", "baseline": "middle", "xOffset": 27},
          "encoding": {
            "x": {"field": "n", "type": "quantitative", "scale": {"domain": [-0.41, 151.96], "nice": false, "zero": false}},
            "y": {"field": "v", "type": "quantitative", "scale": {"domain": [7.69, 52.94], "nice": false, "zero": false}},
            "text": {"field": "t"}
          }
        }
      ]
    }
  ]
}
